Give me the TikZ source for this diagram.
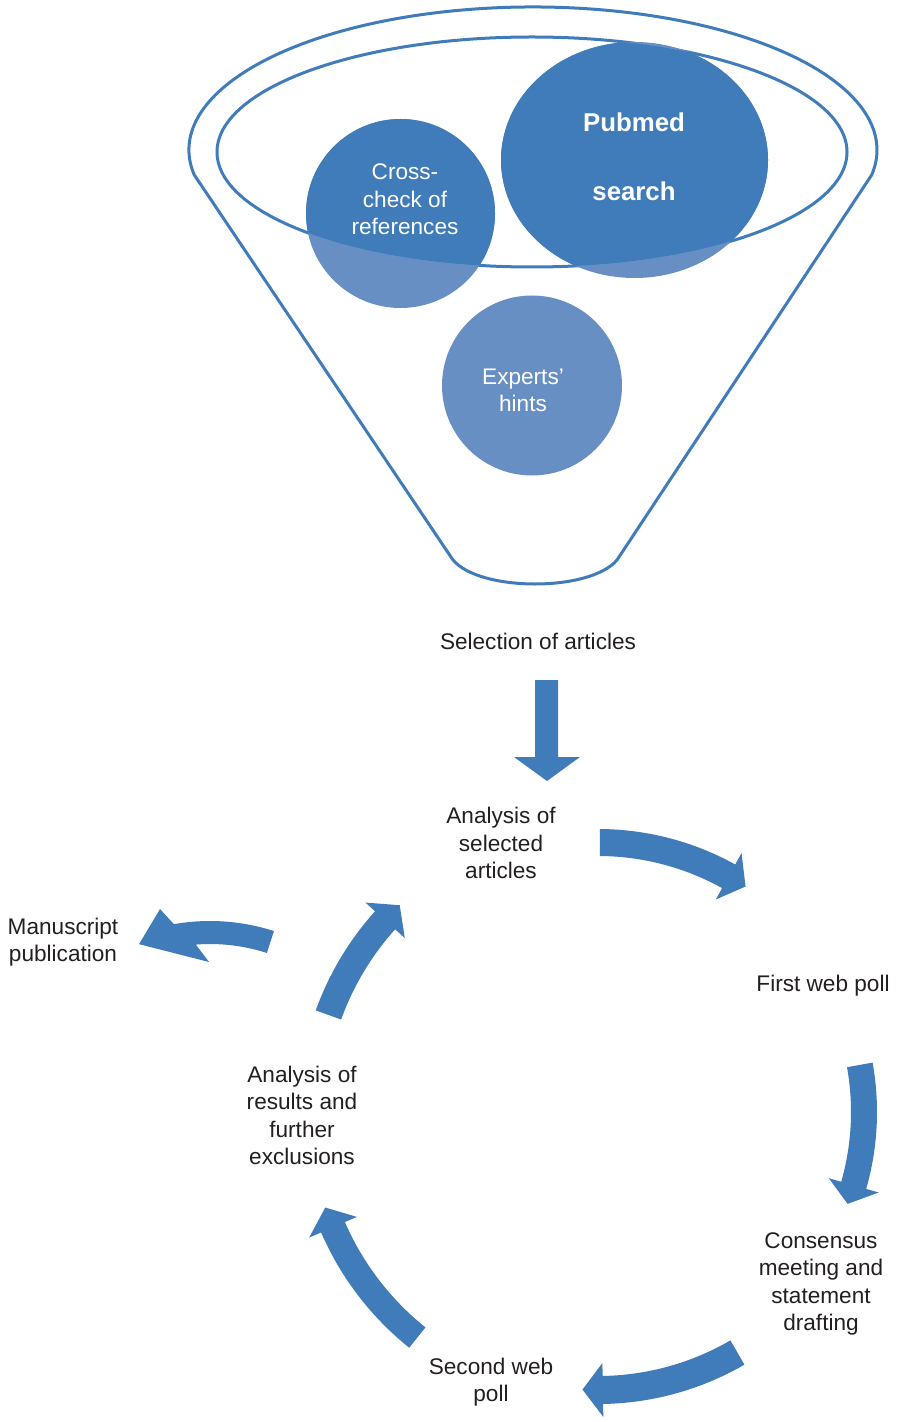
\documentclass[tikz,border=0pt]{standalone}
\usepackage{fontspec}
\setmainfont{Liberation Sans}
\usetikzlibrary{positioning}
\definecolor{darkblue}{HTML}{3F7CB9}
\definecolor{paleblue}{HTML}{688FC4}
\definecolor{inkgray}{HTML}{231F20}

\tikzset{
  steptext/.style={align=center, text=inkgray, inner sep=0pt,
    font=\fontsize{11.3}{13.65}\selectfont},
  bubbletext/.style={align=center, text=white, inner sep=0pt,
    font=\fontsize{11.3}{13.65}\selectfont},
  bigtext/.style={align=center, text=white, inner sep=0pt,
    font=\fontsize{12.9}{15.5}\selectfont\bfseries},
  funnelline/.style={draw=darkblue, line width=1.5pt},
}

% curved block arrow round (hub): start angle, notch angle, inner radius, outer radius
\newcommand{\cyclearrow}[4]{%
  \fill[darkblue, shift={(hub)}] (#1:#4) arc[start angle=#1, end angle=#2, radius=#4]
    -- ({#2}:{#4+13}) -- ({#2-4.2}:{#3/2+#4/2}) -- ({#2}:{#3-13}) -- ({#2}:{#3})
    arc[start angle=#2, end angle=#1, radius=#3] -- cycle;}

\begin{document}
\begin{tikzpicture}[x=0.5pt, y=0.5pt]
  \useasboundingbox (0,0) rectangle (899,-1422);

  % funnel
  \draw[funnelline] (194.2,-174.8) arc[start angle=190, end angle=-10, x radius=344, y radius=143]
    -- (617,-560) .. controls (590,-592) and (480,-592) .. (453,-560) -- cycle;
  \draw[funnelline] (532,-152) ellipse[x radius=315, y radius=115];

  % sources
  \fill[paleblue] (400.5,-213.5) circle[radius=94.5];
  \fill[paleblue] (634.5,-160) ellipse[x radius=133.5, y radius=118];
  \fill[paleblue] (532,-385.5) circle[radius=90];
  \begin{scope}
    \clip (532,-152) ellipse[x radius=315, y radius=115];
    \fill[darkblue] (400.5,-213.5) circle[radius=94.5];
    \fill[darkblue] (634.5,-160) ellipse[x radius=133.5, y radius=118];
  \end{scope}
  \node[bubbletext] (cross) at (405,-199.5) {Cross-\\check of\\references};
  \node[bigtext] (pubmed) at (634,-156.5) {Pubmed\\[19pt]search};
  \node[bubbletext] (experts) at (523,-390) {Experts'\\hints};

  % steps
  \node[steptext] (sel) at (538,-641) {Selection of articles};
  \node[steptext] (ana1) at (501,-843) {Analysis of\\selected\\articles};
  \node[steptext] (poll1) at (823,-986) {First web poll};
  \node[steptext] (cons) at (821,-1284) {Consensus\\meeting and\\statement\\drafting};
  \node[steptext] (poll2) at (491,-1382) {Second web\\poll};
  \node[steptext] (ana2) at (302,-1115.5) {Analysis of\\results and\\further\\exclusions};
  \node[steptext] (pub) at (63,-942) {Manuscript\\publication};

  % arrows
  \fill[darkblue] (535,-680) -- (558,-680) -- (558,-757) -- (580,-757)
    -- (547,-781) -- (514,-757) -- (535,-757) -- cycle;
  \coordinate (hub) at (598,-1112);
  \cyclearrow{89.6}{61}{256}{283}
  \cyclearrow{10.2}{-16}{253}{279}
  \cyclearrow{-59.9}{-89}{264}{292}
  \cyclearrow{-128.7}{-156.5}{276}{302}
  \cyclearrow{160.2}{138}{273}{300}
  \coordinate (pubhub) at (210,-1129);
  \fill[darkblue, shift={(pubhub)}] (72.1:208) arc[start angle=72.1, end angle=100, radius=208]
    -- (102.8:225.6) -- (111:198) -- (90.3:167) -- (94.4:185)
    arc[start angle=94.4, end angle=72.1, radius=185] -- cycle;
\end{tikzpicture}
\end{document}
